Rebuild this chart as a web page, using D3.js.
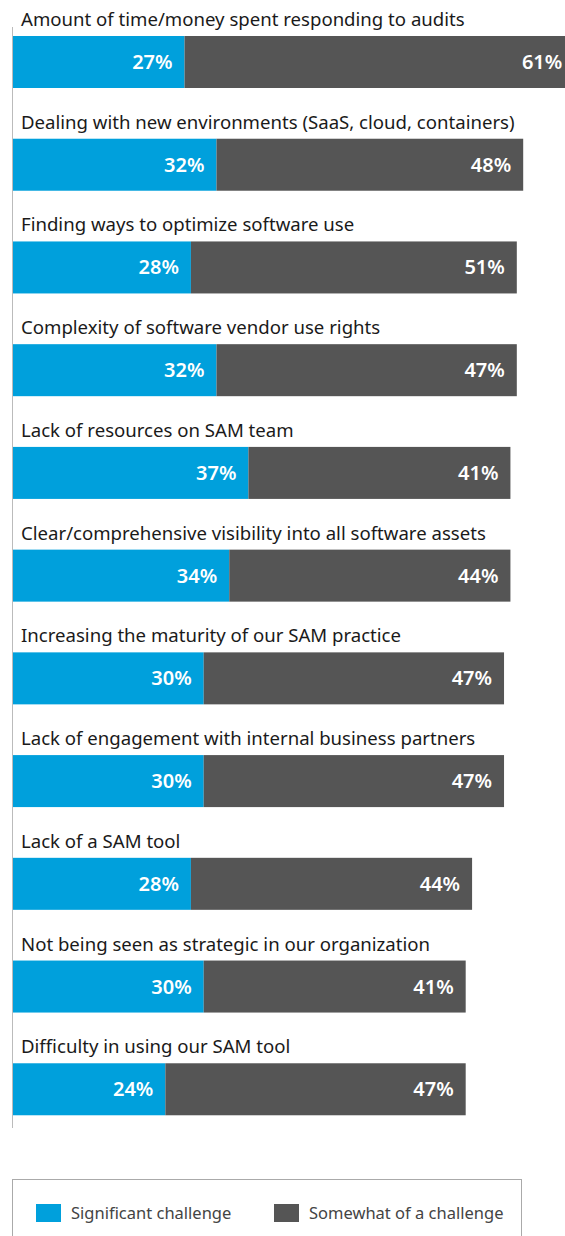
<!DOCTYPE html>
<html>
<head>
<meta charset="utf-8">
<script src="https://cdn.jsdelivr.net/npm/d3@7"></script>
<style>
  body { margin: 0; background: #fff; }
  svg text { font-family: "Noto Sans", "Open Sans", sans-serif; }
</style>
</head>
<body>
<div id="chart"></div>
<script>
// chart data
var categories = [
  "Amount of time/money spent responding to audits",
  "Dealing with new environments (SaaS, cloud, containers)",
  "Finding ways to optimize software use",
  "Complexity of software vendor use rights",
  "Lack of resources on SAM team",
  "Clear/comprehensive visibility into all software assets",
  "Increasing the maturity of our SAM practice",
  "Lack of engagement with internal business partners",
  "Lack of a SAM tool",
  "Not being seen as strategic in our organization",
  "Difficulty in using our SAM tool"
];
var significant = [27, 32, 28, 32, 37, 34, 30, 30, 28, 30, 24];
var somewhat = [61, 48, 51, 47, 41, 44, 47, 47, 44, 41, 47];
var seriesNames = ["Significant challenge", "Somewhat of a challenge"];

var width = 565, height = 1236;
var colors = ["#00a0dc", "#555555"];

var svg = d3.select("#chart")
  .append("svg")
    .attr("width", width)
    .attr("height", height);

var x = d3.scaleLinear()
  .domain([0, 100])
  .range([12, 651]);

var y = d3.scaleBand()
  .domain(categories)
  .range([0, 1130]);

var barTop = 36, barH = 52;

var rows = svg.selectAll(".row")
  .data(categories)
  .enter()
  .append("g")
    .attr("class", "row")
    .attr("transform", function(d) { return "translate(0," + y(d) + ")"; });

rows.append("text")
  .attr("x", 21)
  .attr("y", 26)
  .style("font-size", "18.6px")
  .style("fill", "#1a1a1a")
  .text(function(d) { return d; });

// blue part
rows.append("rect")
  .attr("x", x(0))
  .attr("y", barTop)
  .attr("width", function(d, i) { return x(significant[i]) - x(0); })
  .attr("height", barH)
  .style("fill", colors[0]);

// gray part
rows.append("rect")
  .attr("x", function(d, i) { return x(significant[i]); })
  .attr("y", barTop)
  .attr("width", function(d, i) { return x(significant[i] + somewhat[i]) - x(significant[i]); })
  .attr("height", barH)
  .style("fill", colors[1]);

rows.append("text")
  .attr("x", function(d, i) { return x(significant[i]) - 12; })
  .attr("y", barTop + barH / 2 + 7)
  .attr("text-anchor", "end")
  .style("font-size", "20px")
  .style("font-weight", "600")
  .style("fill", "#fff")
  .text(function(d, i) { return significant[i] + "%"; });

rows.append("text")
  .attr("x", function(d, i) { return Math.min(x(significant[i] + somewhat[i]) - 12, width - 2); })
  .attr("y", barTop + barH / 2 + 7)
  .attr("text-anchor", "end")
  .style("font-size", "20px")
  .style("font-weight", "600")
  .style("fill", "#fff")
  .text(function(d, i) { return somewhat[i] + "%"; });

// vertical axis line
svg.append("line")
  .attr("x1", 12.5).attr("x2", 12.5)
  .attr("y1", 27).attr("y2", 1128)
  .style("stroke", "#bbb")
  .style("stroke-width", 1);

// legend
svg.append("rect")
  .attr("x", 12.5)
  .attr("y", 1179.5)
  .attr("width", 509)
  .attr("height", 70)
  .style("fill", "none")
  .style("stroke", "#aaa");

var legend = svg.selectAll(".legend")
  .data(seriesNames)
  .enter()
  .append("g")
    .attr("class", "legend")
    .attr("transform", function(d, i) { return "translate(" + (36 + i * 238) + ",1204)"; });

legend.append("rect")
  .attr("width", 25)
  .attr("height", 18)
  .style("fill", function(d, i) { return colors[i]; });

legend.append("text")
  .attr("x", 35)
  .attr("y", 15)
  .style("font-size", "16.5px")
  .style("fill", "#444")
  .text(function(d) { return d; });
</script>
</body>
</html>
